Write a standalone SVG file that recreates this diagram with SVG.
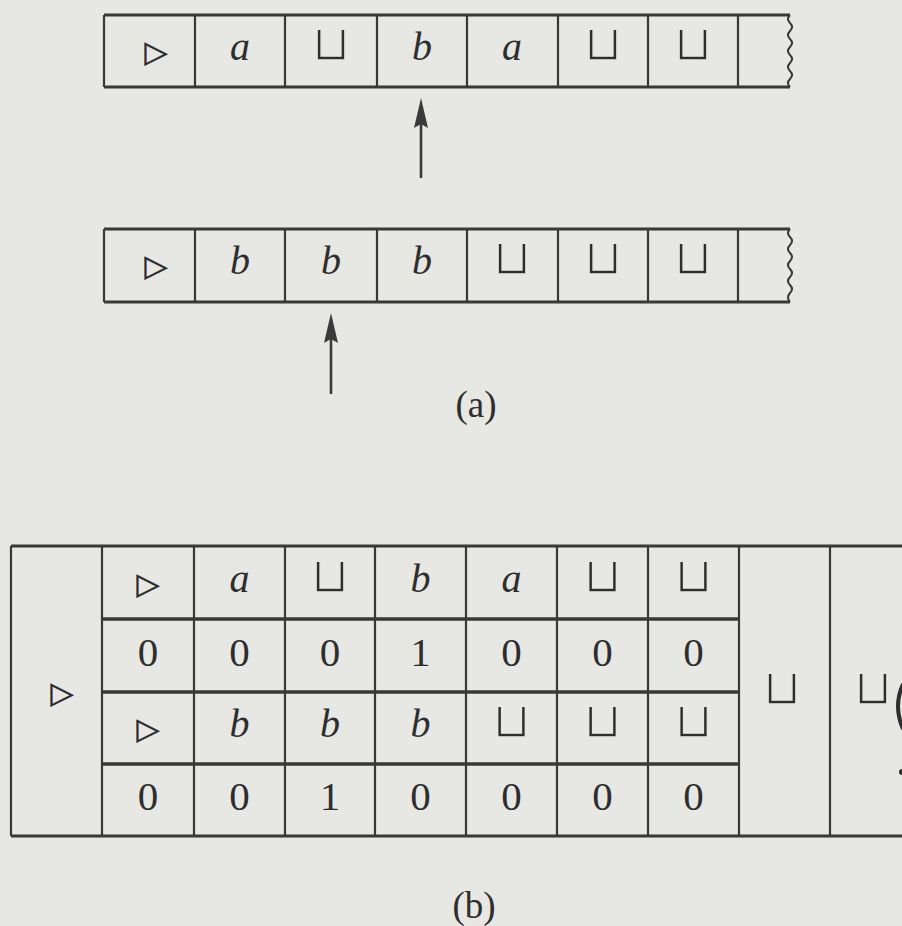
<svg xmlns="http://www.w3.org/2000/svg" width="902" height="926" viewBox="0 0 902 926">
<defs>
<style>
.bg{fill:#e7e7e4}
.hb{stroke:#383838;stroke-width:3;fill:none}
.vl{stroke:#383838;stroke-width:2.2;fill:none}
.sep{stroke:#383838;stroke-width:3.4;fill:none}
.wave{stroke:#383838;stroke-width:2;fill:none}
.it{font-family:"Liberation Serif",serif;font-style:italic;font-size:40px;fill:#2e2e2e;text-anchor:middle}
.dg{font-family:"Liberation Serif",serif;font-size:41px;fill:#2e2e2e;text-anchor:middle}
.sym{font-family:"DejaVu Sans",sans-serif;font-size:30px;fill:#2a2a2a;text-anchor:middle;stroke:#2a2a2a;stroke-width:0.5}
.cup{font-family:"DejaVu Sans",sans-serif;font-size:49px;fill:#2e2e2e;text-anchor:middle;stroke:#e7e7e4;stroke-width:1.5}
.lbl{font-family:"Liberation Serif",serif;font-size:37px;fill:#2e2e2e;text-anchor:middle}
.arr{stroke:#3a3a3a;stroke-width:2.6;fill:none}
.head{fill:#3a3a3a}
</style>
</defs>
<rect class="bg" x="0" y="0" width="902" height="926"/>

<g id="tape-top">
<path class="hb" d="M104 15 H790 M104 87 H790"/>
<path class="vl" d="M104 15 V87 M195 15 V87 M285 15 V87 M377 15 V87 M467 15 V87 M558 15 V87 M648 15 V87 M738 15 V87"/>
<path class="wave" d="M790 15 q-4 4 0 8 q4 4 0 8 q-4 4 0 8 q4 4 0 8 q-4 4 0 8 q4 4 0 8 q-4 4 0 8 q4 4 0 8 q-4 4 0 8"/>
<text class="sym" x="156" y="62">▷</text>
<text class="it" x="240" y="60">a</text>
<text class="cup" x="331" y="60">⊔</text>
<text class="it" x="422" y="60">b</text>
<text class="it" x="512" y="60">a</text>
<text class="cup" x="603" y="60">⊔</text>
<text class="cup" x="693" y="60">⊔</text>
</g>

<g id="tape-bottom">
<path class="hb" d="M104 229 H790 M104 302 H790"/>
<path class="vl" d="M104 229 V302 M195 229 V302 M285 229 V302 M377 229 V302 M467 229 V302 M558 229 V302 M648 229 V302 M738 229 V302"/>
<path class="wave" d="M790 229 q-4 4 0 8 q4 4 0 8 q-4 4 0 8 q4 4 0 8 q-4 4 0 8 q4 4 0 8 q-4 4 0 8 q4 4 0 8 q-4 4.5 0 9"/>
<text class="sym" x="156" y="276">▷</text>
<text class="it" x="240" y="274">b</text>
<text class="it" x="331" y="274">b</text>
<text class="it" x="422" y="274">b</text>
<text class="cup" x="512" y="274">⊔</text>
<text class="cup" x="603" y="274">⊔</text>
<text class="cup" x="693" y="274">⊔</text>
</g>

<g id="connectors">
<path class="arr" d="M421 178 V120"/>
<path class="head" d="M421 98 L428 128 L421 124 L414 128 Z"/>
<path class="arr" d="M331 394 V335"/>
<path class="head" d="M331 313 L338 343 L331 339 L324 343 Z"/>
</g>

<g id="label-a"><text class="lbl" x="476" y="417">(a)</text></g>

<g id="table-b">
<path class="hb" d="M11 546 H902 M11 836 H902"/>
<path class="vl" d="M11 546 V836 M102 546 V836 M194 546 V836 M285 546 V836 M375 546 V836 M466 546 V836 M557 546 V836 M648 546 V836 M739 546 V836 M830 546 V836"/>
<path class="sep" d="M102 619 H739 M102 692 H739 M102 764 H739"/>
<text class="sym" x="62" y="703">▷</text>
<text class="sym" x="148" y="594">▷</text>
<text class="it" x="239.5" y="592">a</text>
<text class="cup" x="330" y="592">⊔</text>
<text class="it" x="420.5" y="592">b</text>
<text class="it" x="511.5" y="592">a</text>
<text class="cup" x="602.5" y="592">⊔</text>
<text class="cup" x="693.5" y="592">⊔</text>
<text class="dg" x="148" y="666">0</text>
<text class="dg" x="239.5" y="666">0</text>
<text class="dg" x="330" y="666">0</text>
<text class="dg" x="420.5" y="666">1</text>
<text class="dg" x="511.5" y="666">0</text>
<text class="dg" x="602.5" y="666">0</text>
<text class="dg" x="693.5" y="666">0</text>
<text class="sym" x="148" y="739">▷</text>
<text class="it" x="239.5" y="737">b</text>
<text class="it" x="330" y="737">b</text>
<text class="it" x="420.5" y="737">b</text>
<text class="cup" x="511.5" y="737">⊔</text>
<text class="cup" x="602.5" y="737">⊔</text>
<text class="cup" x="693.5" y="737">⊔</text>
<text class="dg" x="148" y="810">0</text>
<text class="dg" x="239.5" y="810">0</text>
<text class="dg" x="330" y="810">1</text>
<text class="dg" x="420.5" y="810">0</text>
<text class="dg" x="511.5" y="810">0</text>
<text class="dg" x="602.5" y="810">0</text>
<text class="dg" x="693.5" y="810">0</text>
<text class="cup" x="782" y="704">⊔</text>
<text class="cup" x="873" y="704">⊔</text>
<path d="M903 684 Q893 706 903 729" stroke="#2e2e2e" stroke-width="4" fill="none"/>
<circle cx="902" cy="772" r="3" fill="#2e2e2e"/>
</g>

<g id="label-b"><text class="lbl" x="474" y="918">(b)</text></g>
</svg>
